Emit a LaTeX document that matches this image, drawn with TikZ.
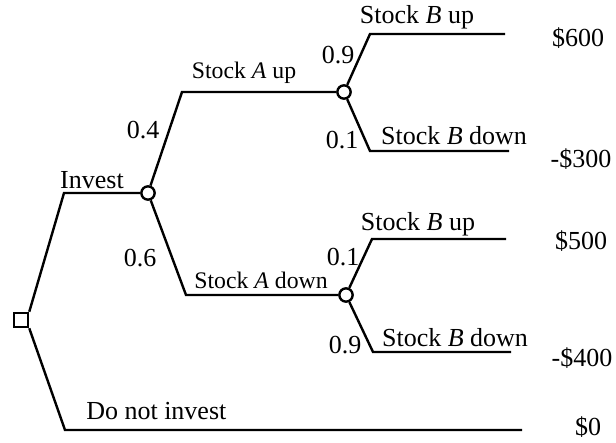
\documentclass[tikz,border=0pt]{standalone}
\usepackage{fontspec}
\setmainfont{Liberation Serif}
\usetikzlibrary{calc}

\tikzset{
	branch/.style={line width=1.8pt},
	chance/.style={circle, draw, line width=1.8pt, fill=white, inner sep=0pt, minimum size=10pt},
	choice/.style={rectangle, draw, line width=1.8pt, fill=white, inner sep=0pt, minimum size=10.6pt},
	lbl/.style={inner sep=0pt, font=\fontsize{19.5}{20}\selectfont},
	lblsmall/.style={inner sep=0pt, font=\fontsize{17.8}{18}\selectfont}
}

\begin{document}
\begin{tikzpicture}[x=0.75pt, y=-0.75pt]
			%%%%% START %%%%%
			\useasboundingbox (0, 0) rectangle (616, 442);
			
			\node[choice] (dec) at (21, 320) {};
			\node[chance] (mkt) at (148, 193) {};
			\node[chance] (aup) at (344, 92) {};
			\node[chance] (adn) at (346, 295) {};
			
			\coordinate (inv) at (64, 193);
			\coordinate (noinv) at (65, 430);
			\coordinate (noinvend) at (522, 430);
			\coordinate (aupc) at (182, 92);
			\coordinate (adnc) at (186, 295);
			
			\coordinate (bupa) at (370, 34);
			\coordinate (bupaend) at (505, 34);
			\coordinate (bdna) at (370, 151);
			\coordinate (bdnaend) at (509, 151);
			\coordinate (bupb) at (372, 239);
			\coordinate (bupbend) at (506, 239);
			\coordinate (bdnb) at (373, 352);
			\coordinate (bdnbend) at (511, 352);
			
			\draw[branch] (dec.north east) -- (inv) -- (mkt);
			\draw[branch] (dec.south east) -- (noinv) -- (noinvend);
			
			\draw[branch] (mkt) -- (aupc) -- (aup);
			\draw[branch] (mkt) -- (adnc) -- (adn);
			
			\draw[branch] (aup) -- (bupa) -- (bupaend);
			\draw[branch] (aup) -- (bdna) -- (bdnaend);
			\draw[branch] (adn) -- (bupb) -- (bupbend);
			\draw[branch] (adn) -- (bdnb) -- (bdnbend);
			
			\node[lbl] (invlbl) at (92, 180) {Invest};
			\node[lbl, anchor=west] (noinvlbl) at (86, 411) {Do not invest};
			\node[lbl] (pa4) at (143, 130) {0.4};
			\node[lbl] (pa6) at (140, 258) {0.6};
			\node[lblsmall] (auplbl) at (244, 73) {Stock \textit{A} up};
			\node[lblsmall] (adnlbl) at (261, 280) {Stock \textit{A} down};
			
			\node[lbl] (pb9a) at (338, 55) {0.9};
			\node[lbl] (pb1a) at (342, 140) {0.1};
			\node[lbl] (pb1b) at (343, 257) {0.1};
			\node[lbl] (pb9b) at (345, 345) {0.9};
			
			\node[lbl] (bupalbl) at (417, 17) {Stock \textit{B} up};
			\node[lbl] (bdnalbl) at (454, 136) {Stock \textit{B} down};
			\node[lbl] (bupblbl) at (418, 224) {Stock \textit{B} up};
			\node[lbl] (bdnblbl) at (455, 338) {Stock \textit{B} down};
			
			\node[lbl] (v600) at (578, 38) {\$600};
			\node[lbl] (v300) at (581, 159) {-\$300};
			\node[lbl] (v500) at (581, 241) {\$500};
			\node[lbl] (v400) at (582, 358) {-\$400};
			\node[lbl] (v0) at (588, 427) {\$0};
			
			%%%%% END %%%%%
\end{tikzpicture}
\end{document}
